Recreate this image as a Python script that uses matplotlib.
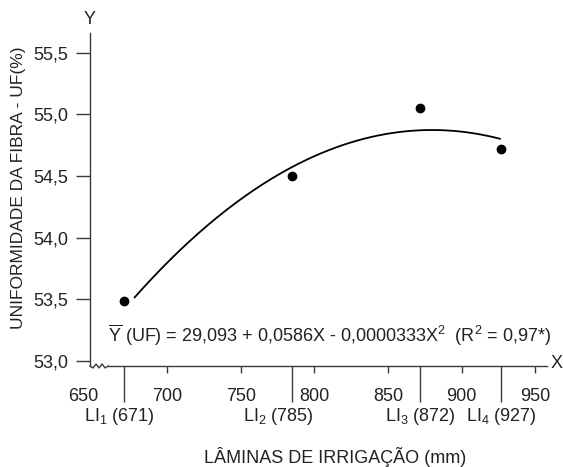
import matplotlib
matplotlib.use("Agg")
import matplotlib.pyplot as plt
import numpy as np
from matplotlib.transforms import ScaledTranslation

plt.rcParams['font.family'] = ['Liberation Sans', 'DejaVu Sans']
plt.rcParams['mathtext.fontset'] = 'custom'
plt.rcParams['mathtext.rm'] = 'Liberation Sans'
plt.rcParams['mathtext.it'] = 'Liberation Sans:italic'

# data
laminas = [671, 785, 872, 927]
uf_obs = [53.49, 54.50, 55.05, 54.72]
li_labels = [r"LI$_{1}$ (671)", r"LI$_{2}$ (785)", r"LI$_{3}$ (872)", r"LI$_{4}$ (927)"]
coef = [29.093, 0.0586, -0.0000333]  # Y = a + bX + cX^2
curve_range = [678, 926]
x_ticks = [650, 700, 750, 800, 850, 900, 950]
x_tick_labels = ["650", "700", "750", "800", "850", "900", "950"]
y_ticks = [53.0, 53.5, 54.0, 54.5, 55.0, 55.5]
y_tick_labels = ["53,0", "53,5", "54,0", "54,5", "55,0", "55,5"]
equation = r"$\overline{\mathrm{Y}}$ (UF) = 29,093 + 0,0586X - 0,0000333X$^{2}$  (R$^{2}$ = 0,97*)"

W, H = 563, 467
fig = plt.figure(figsize=(W / 100, H / 100), dpi=100)
AXW, AXH = 547 - 90, 366 - 33
ax = fig.add_axes([90 / W, 1 - 366 / H, AXW / W, AXH / H])

xmin, xmax = 647.7, 958
ymin, ymax = 52.96, 55.66
ax.set_xlim(xmin, xmax)
ax.set_ylim(ymin, ymax)

ink = '#222222'
spc = '#3a3a3a'
fs = 13

# fitted curve
xc = np.linspace(curve_range[0], curve_range[1], 200)
yc = coef[0] + coef[1] * xc + coef[2] * xc ** 2
ax.plot(xc, yc, color='black', lw=1.3, zorder=3)
ax.plot(laminas, uf_obs, 'o', color='black', ms=6, zorder=4)

# spines
for s in ['top', 'right']:
    ax.spines[s].set_visible(False)
ax.spines['left'].set_color(spc)
ax.spines['bottom'].set_color(spc)
ax.spines['left'].set_linewidth(1.0)
ax.spines['bottom'].set_linewidth(1.0)
ax.spines['bottom'].set_bounds(660, xmax)

# break zigzag
zx = np.linspace(xmin, 660, 7)
amp = 0.016
zy = [ymin, ymin - amp, ymin + amp, ymin - amp, ymin + amp, ymin - amp, ymin]
ax.plot(zx, zy, color=spc, lw=1.0, clip_on=False)

# y ticks
ax.set_yticks(y_ticks)
ax.set_yticklabels(y_tick_labels)
ax.tick_params(axis='y', direction='out', length=10, width=1.0, color=spc,
               labelsize=fs, labelcolor=ink, pad=5.5)

# x ticks
ax.set_xticks(x_ticks)
ax.set_xticklabels(x_tick_labels)
ax.tick_params(axis='x', which='major', direction='out', length=5, width=1.0,
               color=spc, labelsize=fs, labelcolor=ink, pad=11)
ax.set_xticks(laminas, minor=True)
ax.set_xticklabels(li_labels, minor=True)
ax.tick_params(axis='x', which='minor', direction='out', length=26, width=1.0,
               color=spc, labelsize=fs, labelcolor=ink, pad=3)
# first major tick invisible (at axis) and label shifted left
ax.xaxis.get_major_ticks()[0].tick1line.set_visible(False)
lbl = ax.get_xticklabels()[0]
lbl.set_transform(lbl.get_transform() + ScaledTranslation(-10 / 100, 0, fig.dpi_scale_trans))
# LI label shifts
minor_lbls = ax.get_xticklabels(minor=True)
for t, dx in zip(minor_lbls, [-5, -14, 0, 0]):
    t.set_transform(t.get_transform() + ScaledTranslation(dx / 100, 0, fig.dpi_scale_trans))

# labels
ax.set_ylabel("UNIFORMIDADE DA FIBRA - UF(%)", fontsize=12.5, color=ink)
ax.yaxis.set_label_coords((26 - 90) / AXW, (366 - 188) / AXH)
ax.set_xlabel("LÂMINAS DE IRRIGAÇÃO (mm)", fontsize=13, color=ink)
ax.xaxis.set_label_coords((335 - 90) / AXW, -(447 - 366) / AXH)

fig.text(90 / W, 1 - 20 / H, "Y", ha='center', va='center', fontsize=fs, color=ink)
fig.text(557 / W, 1 - 363 / H, "X", ha='center', va='center', fontsize=fs, color=ink)

ax.text(660, 53.21, equation, ha='left', va='center', fontsize=fs, color=ink)

fig.savefig("out.png", dpi=100)
